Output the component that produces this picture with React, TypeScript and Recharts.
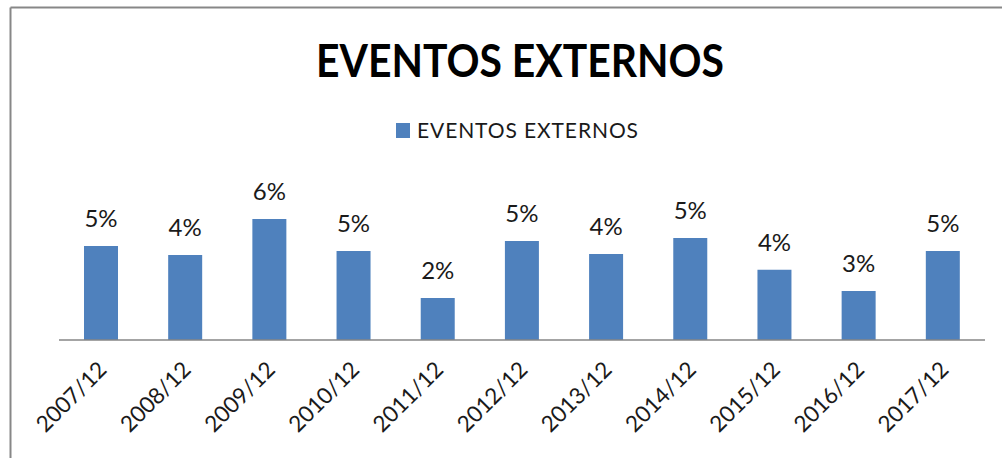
import React from 'react';
import { BarChart, Bar, XAxis, YAxis, LabelList, Legend } from 'recharts';

const categories = ['2007/12', '2008/12', '2009/12', '2010/12', '2011/12', '2012/12', '2013/12', '2014/12', '2015/12', '2016/12', '2017/12'];
const values = [0.0484, 0.0438, 0.0623, 0.0458, 0.0216, 0.051, 0.0443, 0.0525, 0.0361, 0.0252, 0.0458];
const seriesName = 'EVENTOS EXTERNOS';
const titleText = 'EVENTOS EXTERNOS';

const data = categories.map((c, i) => ({ period: c, value: values[i] }));

const BAR_COLOR = '#4F81BD';
const TEXT_COLOR = '#1a1a1a';
const FONT = 'Lato, "Liberation Sans", sans-serif';

const RotTick = (props: any) => {
  const { x, y, payload } = props;
  return (
    <g transform={`translate(${x + 7},${y + 31})`}>
      <text x={0} y={0} textAnchor="end" transform="rotate(-45)" fontFamily={FONT} fontSize={22.5} fill={TEXT_COLOR}>
        {payload.value}
      </text>
    </g>
  );
};

const LegendContent = () => (
  <div style={{ position: 'relative', width: 1002, height: 30 }}>
    <div style={{ position: 'absolute', left: 396, top: 5, width: 14, height: 15, background: BAR_COLOR }} />
    <div style={{ position: 'absolute', left: 417, top: -1, fontFamily: FONT, fontSize: 21, letterSpacing: 0.9, color: TEXT_COLOR, lineHeight: '26px', whiteSpace: 'nowrap' }}>
      {seriesName}
    </div>
  </div>
);

export default function App() {
  return (
    <div style={{ position: 'absolute', left: 0, top: 0, width: 1002, height: 458, background: '#fff', overflow: 'hidden' }}>
      <BarChart width={1002} height={458} data={data} margin={{ top: 204, right: 17, bottom: 88, left: 59 }}>
        <XAxis
          dataKey="period"
          tickLine={false}
          tickSize={0}
          tickMargin={0}
          interval={0}
          axisLine={{ stroke: '#868686', strokeWidth: 1.5 }}
          tick={<RotTick />}
          height={30}
        />
        <YAxis hide domain={[0, 0.07]} />
        <Legend
          layout="horizontal"
          verticalAlign="middle"
          align="center"
          content={<LegendContent />}
          wrapperStyle={{ top: 118, left: 0, width: 1002, height: 30 }}
        />
        <Bar dataKey="value" name={seriesName} fill={BAR_COLOR} barSize={34} isAnimationActive={false}>
          <LabelList
            dataKey="value"
            position="top"
            offset={19}
            formatter={(v: any) => `${Math.round(Number(v) * 100)}%`}
            style={{ fontFamily: FONT, fontSize: 24, fill: TEXT_COLOR }}
          />
        </Bar>
      </BarChart>
      <svg width={1002} height={458} style={{ position: 'absolute', left: 0, top: 0, pointerEvents: 'none' }}>
        <line x1={10.5} y1={7.5} x2={1002} y2={7.5} stroke="#878787" strokeWidth={2} />
        <line x1={10.5} y1={7.5} x2={10.5} y2={458} stroke="#878787" strokeWidth={2} />
        <text x={520} y={77} textAnchor="middle" fontFamily={FONT} fontWeight={700} fontSize={45} fill="#000" textLength={408} lengthAdjust="spacingAndGlyphs">
          {titleText}
        </text>
      </svg>
    </div>
  );
}
